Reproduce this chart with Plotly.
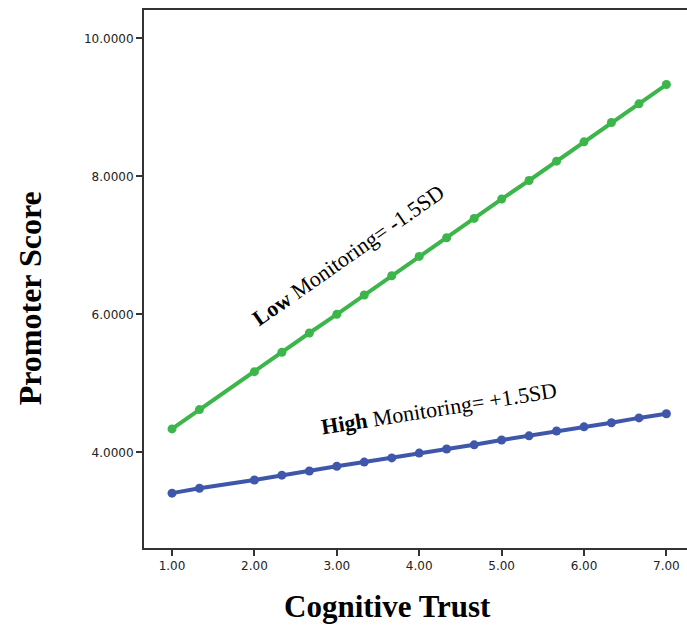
import plotly.graph_objects as go

# Cognitive trust levels at which the promoter score was predicted
trust = [1.0, 1.333, 2.0, 2.333, 2.667, 3.0, 3.333, 3.667, 4.0, 4.333,
         4.667, 5.0, 5.333, 5.667, 6.0, 6.333, 6.667, 7.0]

# Predicted promoter score, low monitoring (-1.5 SD)
low_monitoring = [4.34, 4.62, 5.17, 5.45, 5.73, 6.00, 6.28, 6.56, 6.84, 7.11,
                  7.39, 7.67, 7.94, 8.22, 8.50, 8.78, 9.05, 9.33]

# Predicted promoter score, high monitoring (+1.5 SD)
high_monitoring = [3.41, 3.48, 3.60, 3.67, 3.73, 3.80, 3.86, 3.92, 3.99, 4.05,
                   4.11, 4.18, 4.24, 4.31, 4.37, 4.43, 4.50, 4.56]

x_ticks = [1, 2, 3, 4, 5, 6, 7]
y_ticks = [4, 6, 8, 10]

GREEN = "#3cb54a"
BLUE = "#3f57ab"
SERIF = "Liberation Serif, Times New Roman, serif"
SANS = "DejaVu Sans, Verdana, sans-serif"

fig = go.Figure()
fig.add_trace(go.Scatter(
    x=trust, y=low_monitoring, mode="lines+markers",
    line=dict(color=GREEN, width=4), marker=dict(color=GREEN, size=9),
    showlegend=False))
fig.add_trace(go.Scatter(
    x=trust, y=high_monitoring, mode="lines+markers",
    line=dict(color=BLUE, width=4), marker=dict(color=BLUE, size=9),
    showlegend=False))

fig.update_layout(
    width=687, height=628,
    margin=dict(l=144, r=0, t=10, b=80),
    plot_bgcolor="white", paper_bgcolor="white",
    xaxis=dict(range=[0.66, 7.25], tickvals=x_ticks, tickformat=".2f",
               showgrid=False, zeroline=False, showline=True,
               linecolor="#333", linewidth=2, mirror=True,
               ticks="outside", ticklen=6, tickwidth=2, tickcolor="#333",
               tickfont=dict(family=SANS, size=12, color="#222")),
    yaxis=dict(range=[2.615, 10.41], tickvals=y_ticks, tickformat=".4f",
               showgrid=False, zeroline=False, showline=True,
               linecolor="#333", linewidth=2,
               ticks="outside", ticklen=6, tickwidth=2, tickcolor="#333",
               tickfont=dict(family=SANS, size=12, color="#222")),
    annotations=[
        dict(text="<b>Promoter Score</b>", xref="paper", yref="paper",
             x=-0.21, y=0.464, xanchor="center", yanchor="middle",
             textangle=-90, showarrow=False,
             font=dict(family=SERIF, size=32, color="black")),
        dict(text="<b>Cognitive Trust</b>", xref="paper", yref="paper",
             x=0.449, y=-0.108, xanchor="center", yanchor="middle",
             showarrow=False,
             font=dict(family=SERIF, size=31, color="black")),
        dict(text="<b>Low</b> Monitoring= -1.5SD", x=3.13, y=6.86,
             xanchor="center", yanchor="middle",
             textangle=-35, showarrow=False,
             font=dict(family=SERIF, size=22, color="black")),
        dict(text="<b>High</b> Monitoring= +1.5SD", x=4.24, y=4.63,
             xanchor="center", yanchor="middle",
             textangle=-9, showarrow=False,
             font=dict(family=SERIF, size=22, color="black")),
    ],
)

fig.write_html("out.html")
